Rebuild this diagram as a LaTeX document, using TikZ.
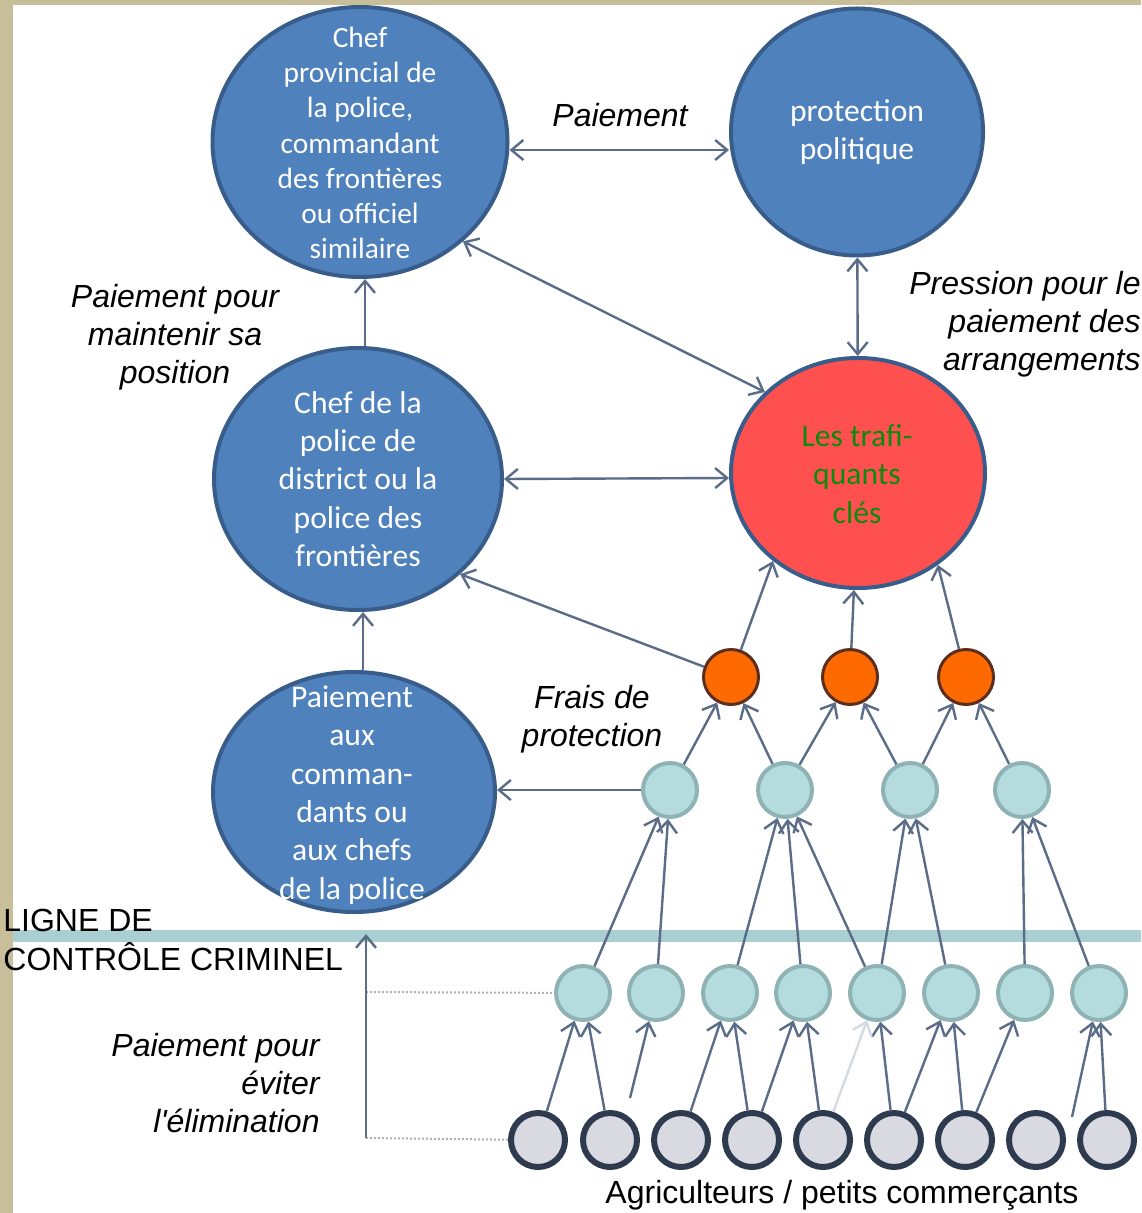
\documentclass[tikz,border=0pt]{standalone}
\usepackage{fontspec}
\setmainfont{Liberation Sans}
\newfontfamily\calibri{Carlito}
\usepackage{xcolor}
\definecolor{azulNodo}{HTML}{4F81BD}
\definecolor{bordeNodo}{HTML}{385D8A}
\definecolor{rojoClave}{HTML}{FF5050}
\definecolor{verdeTexto}{HTML}{0B8A0B}
\definecolor{naranjaNodo}{HTML}{FF6A00}
\definecolor{bordeNaranja}{HTML}{5C2E1E}
\definecolor{celesteNodo}{HTML}{B4DCDF}
\definecolor{bordeCeleste}{HTML}{8FB2B4}
\definecolor{grisNodo}{HTML}{D9D9E1}
\definecolor{bordeGris}{HTML}{2E3B4E}
\definecolor{flechaGris}{HTML}{5A6C88}
\definecolor{bandaCtrl}{HTML}{AACFD2}
\definecolor{marcoBeige}{HTML}{C8BF9A}
\usepackage{tikz}
\usetikzlibrary{arrows.meta,positioning,shapes.geometric,calc}

\begin{document}
\begin{tikzpicture}[x=0.5pt,y=-0.5pt,
  gran/.style={ellipse,draw=bordeNodo,line width=2pt,fill=azulNodo,inner sep=0pt},
  txtnodo/.style={font=\calibri\fontsize{15.8}{19.2}\selectfont,text=white,align=center,inner sep=0pt},
  punto/.style={circle,inner sep=0pt,line width=2pt,minimum size=27pt},
  flecha/.style={draw=flechaGris,line width=1.2pt,-{Straight Barb[length=6pt,width=10pt]}},
  dflecha/.style={flecha,{Straight Barb[length=6pt,width=10pt]}-{Straight Barb[length=6pt,width=10pt]}},
  etiq/.style={font=\itshape\fontsize{16}{19}\selectfont,align=center,inner sep=0pt}]
  \useasboundingbox (0,0) rectangle (1141,1213);
  \fill[white] (0,0) rectangle (1141,1213);
  \fill[marcoBeige] (0,0) rectangle (1141,5);
  \fill[marcoBeige] (0,0) rectangle (13,1213);
  \fill[bandaCtrl] (13,930) rectangle (1141,942);

  \node[gran,minimum width=147.5pt,minimum height=135pt] (A) at (360,142) {};
  \node[gran,minimum width=126pt,minimum height=123.5pt] (B) at (857,132) {};
  \node[gran,minimum width=144pt,minimum height=131pt] (C) at (358,479) {};
  \node[gran,fill=rojoClave,minimum width=127pt,minimum height=115pt] (D) at (858,473) {};
  \node[gran,minimum width=141pt,minimum height=120pt] (E) at (354,792) {};
  \node[txtnodo,font=\calibri\fontsize{14.7}{17.6}\selectfont] (tA) at (360,143)
    {Chef\\provincial de\\la police,\\commandant\\des frontières\\ou officiel\\similaire};
  \node[txtnodo] (tB) at (857,132) {protection\\politique};
  \node[txtnodo] (tC) at (358,479) {Chef de la\\police de\\district ou la\\police des\\frontières};
  \node[txtnodo,text=verdeTexto] (tD) at (857,474) {Les trafi-\\quants\\clés};
  \node[txtnodo] (tE) at (352,795) {Paiement\\aux\\comman-\\dants ou\\aux chefs\\de la police};

  \foreach \x [count=\i] in {731,850,966}
    \node[punto,fill=naranjaNodo,draw=bordeNaranja,line width=1.5pt,minimum size=27.5pt] (o\i) at (\x,677) {};
  \foreach \x [count=\i] in {670,785,910,1022}
    \node[punto,fill=celesteNodo,draw=bordeCeleste] (m\i) at (\x,790) {};
  \foreach \x [count=\i] in {583,656,730,803,877,951,1025,1099}
    \node[punto,fill=celesteNodo,draw=bordeCeleste] (b\i) at (\x,993) {};
  \foreach \x [count=\i] in {538,610,681,752,823,894,965,1036,1107}
    \node[punto,fill=grisNodo,draw=bordeGris,line width=3pt] (g\i) at (\x,1140) {};

  \coordinate (fs1) at (630,1098);
  \coordinate (fs2) at (1072,1117);
  \coordinate (ctrl) at (366,992);
  \coordinate (elim) at (366,1138);
  \coordinate (ligne) at (366,934);

  \draw[dflecha] ([yshift=-4pt]A.east) -- ([yshift=-9pt]B.west);
  \draw[dflecha] (B) -- (D);
  \draw[dflecha] (A.-44) -- (D.139);
  \draw[dflecha] (C.east) -- ([yshift=-2.5pt]D.west);
  \draw[flecha] ([xshift=3.5pt]C.north) -- ([xshift=2.5pt]A.south);
  \draw[flecha] ([xshift=4.5pt]E.north) -- ([xshift=2.5pt]C.south);
  \draw[flecha] (o1) -- (C.-43);
  \draw[flecha] (m1) -- (E.east |- m1);
  \draw[flecha] (o1) -- (D.-134);
  \draw[flecha] (o2) -- (D.-92);
  \draw[flecha] (o3) -- (D.-49);
  \foreach \s/\t in {m1/o1,m2/o1,m2/o2,m3/o2,m3/o3,m4/o3,
      b1/m1,b2/m1,b3/m2,b4/m2,b5/m2,b5/m3,b6/m3,b7/m4,b8/m4,
      g1/b1,g2/b1,g3/b3,g4/b3,g4/b4,g5/b4,g6/b5,g6/b6,g7/b6,g7/b7,g9/b8}
    \draw[flecha] (\s) -- (\t);
  \draw[flecha] (fs1) -- (b2);
  \draw[flecha] (fs2) -- (b8);
  \draw[flecha,draw=flechaGris!25] (g5) -- (b5);

  \draw[gray!60,line width=1pt,densely dotted] (ctrl) -- (b1);
  \draw[gray!60,line width=1pt,densely dotted] (elim) -- (g1);
  \draw[flecha] (elim) -- (ligne);

  \node[etiq] (lPay) at (620,115) {Paiement};
  \node[etiq] (lPos) at (175,337) {Paiement pour\\maintenir sa\\position};
  \node[etiq,align=right,anchor=east] (lPre) at (1141,324) {Pression pour le\\paiement des\\arrangements};
  \node[etiq] (lFrais) at (592,719) {Frais de\\protection};
  \node[etiq,align=right,anchor=east] (lElim) at (320,1083) {Paiement pour\\éviter\\l\textquotesingle élimination};
  \node[font=\fontsize{16}{19.5}\selectfont,align=left,anchor=west,inner sep=0pt] (lLigne) at (3,940)
    {LIGNE DE\\CONTRÔLE CRIMINEL};
  \node[font=\fontsize{16}{19}\selectfont,inner sep=0pt] (lAgri) at (842,1195) {Agriculteurs / petits commerçants};
\end{tikzpicture}
\end{document}
